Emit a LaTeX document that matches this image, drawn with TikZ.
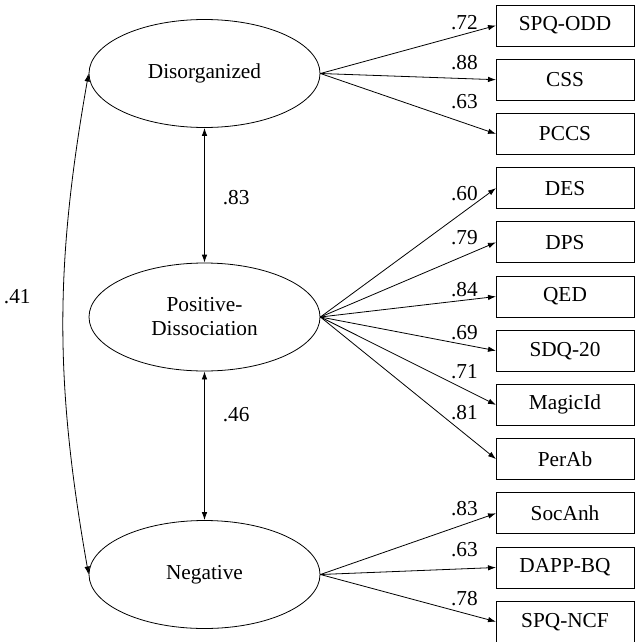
\documentclass[tikz,border=0pt]{standalone}
\usepackage{fontspec}
\setmainfont{Liberation Serif}
\usetikzlibrary{arrows.meta,positioning,shapes.geometric}

\begin{document}
\begin{tikzpicture}[x=1pt,y=-1pt,>={Latex[length=8pt,width=5.5pt]},
  line width=0.8pt,node distance=13.2pt,
  font=\fontsize{21.3}{24}\selectfont,
  factor/.style={ellipse,draw,minimum width=231pt,minimum height=108pt,inner sep=0pt,align=center},
  box/.style={rectangle,draw,minimum width=138pt,minimum height=41pt,inner sep=0pt,outer sep=0pt},
  load/.style={pos=0.82,inner sep=0pt}]
    \useasboundingbox (0,0) rectangle (637,642);
    % latent factors
    \node[factor](dis) at (204.5,73.5) {Disorganized};
    \node[factor](posdis) at (204.5,317) {Positive-\\Dissociation};
    \node[factor](neg) at (204.5,574.5) {Negative};
    % indicators
    \node[box](spqodd) at (565,25.5) {SPQ-ODD};
    \node[box,below=of spqodd](css) {CSS};
    \node[box,below=of css](pccs) {PCCS};
    \node[box,below=of pccs](des) {DES};
    \node[box,below=of des](dps) {DPS};
    \node[box,below=of dps](qed) {QED};
    \node[box,below=of qed](sdq) {SDQ-20};
    \node[box,below=of sdq](magic) {MagicId};
    \node[box,below=of magic](perab) {PerAb};
    \node[box,below=of perab](socanh) {SocAnh};
    \node[box,below=of socanh](dapp) {DAPP-BQ};
    \node[box,below=of dapp](spqncf) {SPQ-NCF};

    \path[->] (dis.east) edge node[load,above=4.4pt] {.72} (spqodd.west)
      (dis.east) edge node[load,above=8.6pt] {.88} (css.west)
      (dis.east) edge node[load,above=14pt] {.63} (pccs.west);
    \path[->] (posdis.east) edge node[load,above=9.8pt] {.60} (des.west)
      (posdis.east) edge node[load,above=10.6pt] {.79} (dps.west)
      (posdis.east) edge node[load,above=3.4pt] {.84} (qed.west)
      (posdis.east) edge node[load,above=4.4pt] {.69} (sdq.west)
      (posdis.east) edge node[load,above=9.8pt] {.71} (magic.west)
      (posdis.east) edge node[load,above=13.5pt] {.81} (perab.west);
    \path[->] (neg.east) edge node[load,above=8.3pt] {.83} (socanh.west)
      (neg.east) edge node[load,above=11.8pt] {.63} (dapp.west)
      (neg.east) edge node[load,above=6.7pt] {.78} (spqncf.west);

    % correlations
    \draw[<->] (dis.south) -- node[pos=0.52,right=18pt,inner sep=0pt] {.83} (posdis.north);
    \draw[<->] (posdis.south) -- node[pos=0.29,right=18pt,inner sep=0pt] {.46} (neg.north);
    \draw[<->] (dis.west) to[bend right=10] node[pos=0.44,left=32.5pt,inner sep=0pt] {.41} (neg.west);
\end{tikzpicture}
\end{document}
